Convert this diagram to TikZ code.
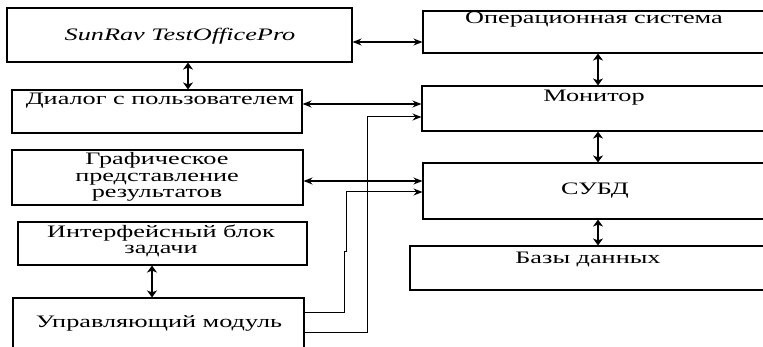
\documentclass[tikz,border=0pt]{standalone}
\usepackage{graphicx}
\usepackage{fontspec}
\setmainfont{Liberation Serif}
\newcommand{\sx}[1]{\scalebox{1.5}[1]{#1}}
\usetikzlibrary{arrows.meta}
\begin{document}
\begin{tikzpicture}[x=1pt,y=-1pt,
  box/.style={draw,line width=1.1pt,rectangle,inner sep=0pt},
  txt/.style={inner sep=0pt,align=center,font=\fontsize{17.5}{16.5}\selectfont},
  hbi/.style={line width=1.4pt,{Stealth[length=9pt,width=7pt,inset=3pt]}-{Stealth[length=9pt,width=7pt,inset=3pt]}},
  vbi/.style={line width=2.6pt,{Stealth[length=7pt,width=10pt,inset=2pt]}-{Stealth[length=7pt,width=10pt,inset=2pt]}},
  elb/.style={line width=1pt,-{Stealth[length=9pt,width=7pt,inset=3pt]}}]
\useasboundingbox (0,0) rectangle (763,347);
\clip (0,0) rectangle (763,347);
% boxes
\node[box,minimum width=345pt,minimum height=54pt] (sun) at (179.5,35) {};
\node[box,minimum width=290pt,minimum height=43pt] (dlg) at (157,111.5) {};
\node[box,minimum width=291pt,minimum height=55pt] (gr) at (157.5,177.5) {};
\node[box,minimum width=289pt,minimum height=43pt] (ifc) at (162.5,243.5) {};
\node[box,minimum width=291pt,minimum height=62pt] (ctl) at (158.5,329) {};
\node[box,minimum width=367pt,minimum height=42pt] (os) at (606.5,32) {};
\node[box,minimum width=368pt,minimum height=45pt] (mon) at (606,108.5) {};
\node[box,minimum width=367pt,minimum height=56pt] (db) at (606.5,191) {};
\node[box,minimum width=380pt,minimum height=44pt] (bd) at (600,268) {};
% texts
\node[txt] (tsun) at (180,36) {\sx{\itshape SunRav TestOfficePro}};
\node[txt] (tdlg) at (160,101) {\sx{Диалог с пользователем}};
\node[txt] (tgr) at (157,177) {\sx{Графическое}\\\sx{представление}\\\sx{результатов}};
\node[txt] (tifc) at (161,241) {\sx{Интерфейсный блок}\\\sx{задачи}};
\node[txt] (tctl) at (159,323) {\sx{Управляющий модуль}};
\node[txt] (tos) at (594,20) {\sx{Операционная система}};
\node[txt] (tmon) at (594,98) {\sx{Монитор}};
\node[txt] (tdb) at (595,191) {\sx{СУБД}};
\node[txt] (tbd) at (588,259) {\sx{Базы данных}};
% helper coordinates
\coordinate (h1) at (0,42);
\coordinate (h2) at (0,104);
\coordinate (h3) at (0,117);
\coordinate (h4) at (0,181);
\coordinate (h5) at (0,192);
\coordinate (hj) at (0,252);
\coordinate (h6) at (0,313);
\coordinate (h7) at (0,332);
\coordinate (v1) at (367,0);
\coordinate (v2) at (344,0);
\coordinate (xa) at (188,0);
\coordinate (xb) at (152,0);
\coordinate (xr) at (598,0);
% connectors
\draw[hbi] (sun.east |- h1) -- (os.west |- h1);
\draw[hbi] (dlg.east |- h2) -- (mon.west |- h2);
\draw[hbi] (gr.east |- h4) -- (db.west |- h4);
\draw[elb] (ctl.east |- h7) -| (v1 |- h3) -- (mon.west |- h3);
\draw[elb] (ctl.east |- h6) -| (v2 |- hj) -- ++(2,0) |- (db.west |- h5);
\draw[vbi] (sun.south -| xa) -- (dlg.north -| xa);
\draw[vbi] (ifc.south -| xb) -- (ctl.north -| xb);
\draw[vbi] (os.south -| xr) -- (mon.north -| xr);
\draw[vbi] (mon.south -| xr) -- (db.north -| xr);
\draw[vbi] (db.south -| xr) -- (bd.north -| xr);
\end{tikzpicture}
\end{document}
